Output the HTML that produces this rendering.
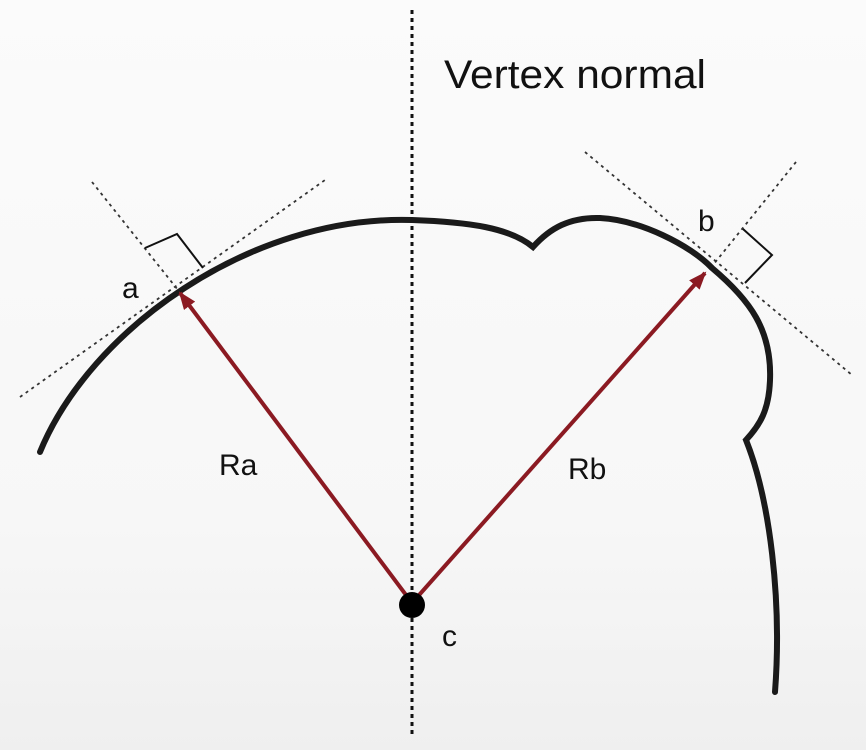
<!DOCTYPE html>
<html><head><style>
html,body{margin:0;padding:0;background:#fafafa;}
svg{display:block;}
text{font-family:"Liberation Sans",Arial,sans-serif;fill:#111;}
</style></head><body>
<svg width="866" height="750" viewBox="0 0 866 750" xmlns="http://www.w3.org/2000/svg">
<defs>
<linearGradient id="bg" x1="0" y1="0" x2="0" y2="1">
<stop offset="0" stop-color="#fbfbfb"/><stop offset="0.7" stop-color="#f7f7f7"/><stop offset="1" stop-color="#efefef"/>
</linearGradient>
<marker id="ah" markerWidth="18" markerHeight="14" refX="16" refY="7" orient="auto" markerUnits="userSpaceOnUse">
<path d="M0,0 L18,7 L0,14 z" fill="#8b1a22"/>
</marker>
</defs>
<rect width="866" height="750" fill="url(#bg)"/>
<line x1="412" y1="10" x2="412" y2="735" stroke="#111" stroke-width="3" stroke-dasharray="4,4"/>
<text x="444" y="88" font-size="40" textLength="262" lengthAdjust="spacingAndGlyphs">Vertex normal</text>
<line x1="20" y1="397" x2="325" y2="180" stroke="#333" stroke-width="1.8" stroke-dasharray="3,4"/>
<line x1="92" y1="182" x2="178" y2="290" stroke="#333" stroke-width="1.8" stroke-dasharray="3,4"/>
<line x1="585" y1="152" x2="852" y2="375" stroke="#333" stroke-width="1.8" stroke-dasharray="3,4"/>
<line x1="796" y1="162" x2="713" y2="265" stroke="#333" stroke-width="1.8" stroke-dasharray="3,4"/>
<polyline points="145,248 177,234 203,268" fill="none" stroke="#111" stroke-width="2"/>
<polyline points="743,229 772,255 745,283" fill="none" stroke="#111" stroke-width="2"/>
<path d="M40,452 C90,330 250,215 412,220 C470,222 510,228 533,247 C550,228 570,217 600,218 C640,220 690,245 712,268 C750,300 772,330 770,380 C769,410 760,425 746,440 C770,500 782,600 775,692" fill="none" stroke="#1a1a1a" stroke-width="6" stroke-linecap="round"/>
<line x1="412" y1="603" x2="180" y2="293" stroke="#8b1a22" stroke-width="4" marker-end="url(#ah)"/>
<line x1="412" y1="603" x2="705" y2="273" stroke="#8b1a22" stroke-width="4" marker-end="url(#ah)"/>
<circle cx="412" cy="605" r="13" fill="#000"/>
<text x="122" y="298" font-size="30">a</text>
<text x="698" y="231" font-size="30">b</text>
<text x="219" y="475" font-size="30">Ra</text>
<text x="568" y="479" font-size="30">Rb</text>
<text x="442" y="646" font-size="30">c</text>
</svg>
</body></html>
